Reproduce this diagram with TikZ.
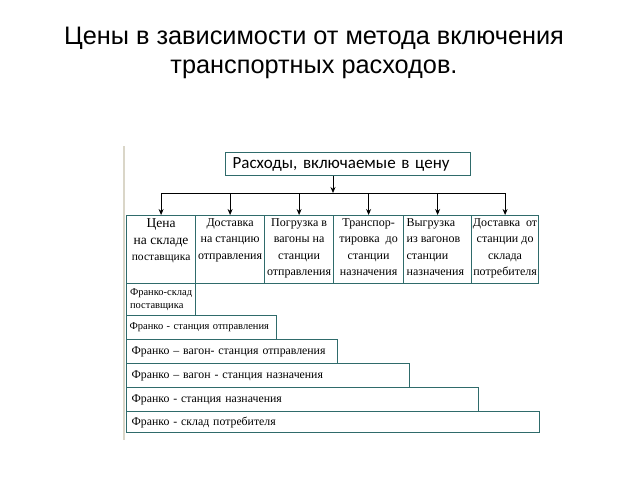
\documentclass[tikz,border=0pt]{standalone}
\usepackage{fontspec}
\setmainfont{Liberation Serif}
\newfontfamily\titlefont{Liberation Sans}
\newfontfamily\headfont{Carlito}
\usetikzlibrary{arrows.meta}

\definecolor{frame}{HTML}{2F6B6B}
\definecolor{edge}{HTML}{DAD6C8}

\tikzset{
    cell/.style={draw=frame, line width=1.2pt, inner sep=0pt, anchor=north west},
    bar/.style={draw=frame, line width=1.2pt, anchor=north west, inner xsep=5pt,
        inner ysep=0pt, align=left, font=\fontsize{11.8}{13}\selectfont},
    arr/.style={-{Stealth[length=6pt,width=5pt]}, line width=0.8pt},
}
% cell text, top aligned, 68pt high
\newcommand{\cellbox}[2]{\parbox[t][68pt][t]{#1}{\vspace*{3pt}\fontsize{12}{16.5}\selectfont\centering #2}}

\begin{document}
\begin{tikzpicture}[x=1pt, y=-1pt]
    \useasboundingbox (0,0) rectangle (640,480);

    % Title
    \node[anchor=base, font=\titlefont\fontsize{25.3}{29}\selectfont] (title1) at (314,44)
        {Цены в зависимости от метода включения};
    \node[anchor=base, font=\titlefont\fontsize{25.3}{29}\selectfont] (title2) at (314,73)
        {транспортных расходов.};

    % scan edge
    \draw[edge, line width=2pt] (124,146) -- (124,440);

    % Head box
    \node[draw=frame, line width=1.2pt, anchor=north west, minimum height=23pt,
        text width=231pt, inner xsep=7pt, inner ysep=0pt, align=left,
        font=\headfont\fontsize{17}{20}\selectfont] (head) at (225,152)
        {Расходы, включаемые в цену};

    % Row of costs
    \node[cell] (c1) at (126,215) {\cellbox{69pt}{{\fontsize{13.5}{17}\selectfont Цена\\на складе\\}{\fontsize{11.5}{14}\selectfont поставщика}}};
    \node[cell] (c2) at (195,215) {\cellbox{69pt}{Доставка\\на станцию\\отправления}};
    \node[cell] (c3) at (264,215) {\cellbox{69pt}{Погрузка в\\вагоны на\\станции\\отправления}};
    \node[cell] (c4) at (333,215) {\cellbox{70pt}{Транспор-\\тировка\ \ до\\станции\\назначения}};
    \node[cell] (c5) at (403,215) {\cellbox{68pt}{\raggedright\hspace*{3pt}Выгрузка\\\hspace*{3pt}из вагонов\\\hspace*{3pt}станции\\\hspace*{3pt}назначения}};
    \node[cell] (c6) at (471,215) {\cellbox{67pt}{Доставка\ \ от\\станции до\\склада\\потребителя}};

    % Arrows
    \coordinate (bus) at (333,193);
    \draw[arr] (bus |- head.south) -- (bus);
    \draw[line width=0.8pt] (bus -| c1.north) -- (bus -| c6.north);
    \draw[arr] (bus -| c1.north) -- (c1.north);
    \draw[arr] (bus -| c2.north) -- (c2.north);
    \draw[arr] (bus -| c3.north) -- (c3.north);
    \draw[arr] (bus -| c4.north) -- (c4.north);
    \draw[arr] (bus -| c5.north) -- (c5.north);
    \draw[arr] (bus -| c6.north) -- (c6.north);

    % Franco bars
    \node[bar, minimum width=69pt, minimum height=32pt, inner xsep=3pt,
        font=\fontsize{10.5}{13}\selectfont] (f1) at (126,283)
        {Франко-склад\\поставщика};
    \node[bar, text width=144pt, minimum height=24pt, inner xsep=3pt,
        font=\fontsize{10.5}{13}\selectfont] (f2) at (126,315)
        {Франко - станция отправления};
    \node[bar, text width=201pt, minimum height=24pt] (f3) at (126,339)
        {Франко -- вагон- станция отправления};
    \node[bar, text width=273pt, minimum height=24pt] (f4) at (126,363)
        {Франко -- вагон - станция назначения};
    \node[bar, text width=342pt, minimum height=24pt] (f5) at (126,387)
        {Франко - станция назначения};
    \node[bar, text width=403pt, minimum height=21pt] (f6) at (126,411)
        {Франко - склад потребителя};
\end{tikzpicture}
\end{document}
